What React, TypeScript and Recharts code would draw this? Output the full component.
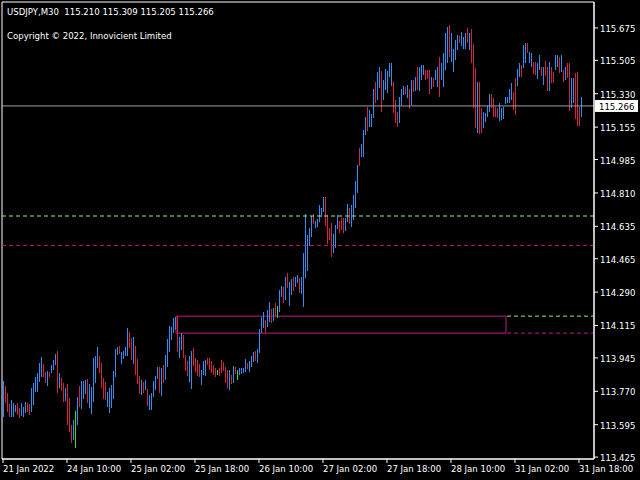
import React from 'react';
import { ComposedChart, Bar, XAxis, YAxis, ReferenceLine, ReferenceArea } from 'recharts';

// M30 bars, high / low per bar, direction u = up, d = down, g = doji
const highs = [
  113.824, 113.798, 113.760, 113.703, 113.724, 113.708, 113.698, 113.708, 113.682, 113.708,
  113.687, 113.714, 113.708, 113.703, 113.787, 113.813, 113.844, 113.865, 113.918, 113.949,
  113.913, 113.871, 113.876, 113.871, 113.908, 113.934, 113.965, 113.981, 113.865, 113.839,
  113.813, 113.787, 113.808, 113.734, 113.593, 113.619, 113.666, 113.739, 113.798, 113.824,
  113.824, 113.829, 113.834, 113.808, 113.792, 113.944, 113.955, 114.001, 113.955, 113.918,
  113.839, 113.819, 113.766, 113.787, 113.803, 113.876, 113.991, 114.001, 114.007, 113.976,
  113.981, 114.001, 114.101, 114.080, 114.049, 114.054, 114.007, 113.939, 113.850, 113.829,
  113.819, 113.829, 113.781, 113.750, 113.760, 113.824, 113.850, 113.897, 113.897, 113.892,
  113.908, 113.960, 114.043, 114.112, 114.107, 114.154, 114.159, 114.164, 114.054, 114.075,
  114.065, 113.960, 113.929, 113.955, 113.981, 113.996, 113.944, 113.934, 113.913, 113.881,
  113.929, 113.934, 113.944, 113.944, 113.929, 113.908, 113.892, 113.881, 113.892, 113.934,
  113.923, 113.897, 113.881, 113.881, 113.855, 113.902, 113.897, 113.881, 113.892, 113.892,
  113.892, 113.939, 113.918, 113.929, 113.955, 113.976, 113.981, 113.991, 114.096, 114.159,
  114.185, 114.143, 114.196, 114.238, 114.201, 114.206, 114.232, 114.217, 114.301, 114.322,
  114.316, 114.369, 114.390, 114.343, 114.358, 114.369, 114.369, 114.379, 114.364, 114.369,
  114.495, 114.699, 114.589, 114.626, 114.689, 114.699, 114.663, 114.673, 114.747, 114.731,
  114.788, 114.788, 114.694, 114.626, 114.652, 114.594, 114.642, 114.694, 114.663, 114.678,
  114.678, 114.678, 114.752, 114.731, 114.747, 114.799, 114.873, 114.956, 115.045, 115.066,
  115.140, 115.208, 115.260, 115.245, 115.224, 115.355, 115.392, 115.444, 115.470, 115.449,
  115.402, 115.460, 115.449, 115.491, 115.491, 115.392, 115.297, 115.234, 115.313, 115.355,
  115.371, 115.366, 115.376, 115.355, 115.402, 115.402, 115.418, 115.470, 115.470, 115.481,
  115.481, 115.455, 115.455, 115.455, 115.418, 115.413, 115.455, 115.470, 115.523, 115.491,
  115.544, 115.649, 115.680, 115.691, 115.649, 115.565, 115.612, 115.638, 115.633, 115.654,
  115.628, 115.649, 115.675, 115.649, 115.670, 115.591, 115.465, 115.392, 115.392, 115.255,
  115.234, 115.229, 115.266, 115.329, 115.329, 115.308, 115.260, 115.255, 115.282, 115.255,
  115.260, 115.313, 115.313, 115.355, 115.387, 115.339, 115.413, 115.460, 115.491, 115.481,
  115.586, 115.596, 115.596, 115.549, 115.544, 115.496, 115.496, 115.491, 115.533, 115.470,
  115.470, 115.502, 115.470, 115.496, 115.470, 115.444, 115.533, 115.533, 115.523, 115.533,
  115.455, 115.470, 115.491, 115.491, 115.413, 115.413, 115.439, 115.444, 115.260, 115.313,
];

const lows = [
  113.634, 113.708, 113.661, 113.634, 113.634, 113.634, 113.661, 113.645, 113.629, 113.640,
  113.634, 113.655, 113.661, 113.645, 113.661, 113.698, 113.766, 113.766, 113.819, 113.844,
  113.844, 113.813, 113.798, 113.844, 113.865, 113.881, 113.908, 113.760, 113.787, 113.771,
  113.714, 113.719, 113.593, 113.556, 113.498, 113.514, 113.472, 113.593, 113.687, 113.677,
  113.729, 113.755, 113.708, 113.682, 113.650, 113.714, 113.813, 113.892, 113.865, 113.787,
  113.729, 113.724, 113.687, 113.655, 113.682, 113.729, 113.844, 113.960, 113.965, 113.913,
  113.939, 113.955, 113.955, 113.996, 113.934, 113.913, 113.855, 113.808, 113.755, 113.750,
  113.760, 113.776, 113.693, 113.671, 113.671, 113.739, 113.776, 113.834, 113.760, 113.745,
  113.813, 113.829, 113.897, 113.976, 114.038, 114.075, 114.091, 113.976, 113.944, 113.986,
  113.944, 113.876, 113.850, 113.819, 113.781, 113.902, 113.871, 113.850, 113.844, 113.803,
  113.855, 113.850, 113.908, 113.881, 113.865, 113.855, 113.844, 113.855, 113.850, 113.865,
  113.876, 113.813, 113.787, 113.776, 113.808, 113.813, 113.860, 113.829, 113.855, 113.860,
  113.865, 113.871, 113.886, 113.871, 113.897, 113.923, 113.929, 113.918, 113.970, 114.075,
  114.101, 114.075, 114.107, 114.133, 114.127, 114.138, 114.159, 114.154, 114.185, 114.264,
  114.232, 114.248, 114.311, 114.217, 114.275, 114.296, 114.316, 114.337, 114.285, 114.280,
  114.212, 114.364, 114.400, 114.531, 114.579, 114.647, 114.626, 114.631, 114.657, 114.684,
  114.710, 114.636, 114.542, 114.563, 114.474, 114.495, 114.521, 114.621, 114.600, 114.615,
  114.600, 114.610, 114.657, 114.647, 114.631, 114.668, 114.731, 114.809, 114.951, 114.998,
  114.998, 115.113, 115.134, 115.155, 115.155, 115.203, 115.282, 115.297, 115.360, 115.234,
  115.297, 115.350, 115.334, 115.418, 115.371, 115.229, 115.177, 115.155, 115.177, 115.271,
  115.324, 115.329, 115.308, 115.250, 115.271, 115.340, 115.345, 115.350, 115.345, 115.402,
  115.429, 115.402, 115.407, 115.329, 115.355, 115.366, 115.402, 115.366, 115.313, 115.402,
  115.366, 115.455, 115.491, 115.523, 115.496, 115.444, 115.507, 115.559, 115.596, 115.580,
  115.565, 115.565, 115.596, 115.559, 115.491, 115.255, 115.150, 115.124, 115.119, 115.124,
  115.150, 115.182, 115.208, 115.234, 115.255, 115.208, 115.208, 115.203, 115.187, 115.192,
  115.198, 115.276, 115.282, 115.282, 115.297, 115.245, 115.219, 115.371, 115.418, 115.418,
  115.465, 115.491, 115.544, 115.491, 115.470, 115.434, 115.429, 115.407, 115.455, 115.423,
  115.376, 115.423, 115.345, 115.345, 115.387, 115.387, 115.455, 115.470, 115.439, 115.444,
  115.392, 115.402, 115.413, 115.240, 115.255, 115.282, 115.198, 115.161, 115.161, 115.208,
];

const dirs = (
  'uddduuuddu' + 'uudduuuuuu' + 'dduduuudud' + 'dudddugudu' + 'uuduuuuudd' +
  'dduuuuuudu' + 'uuuddudddu' + 'duduuuuudu' + 'duuuuuuduu' + 'ddduuddddu' +
  'uudddddgdd' + 'dddududguu' + 'uuduuuduuu' + 'uduududguu' + 'duduuduudu' +
  'uuuuuduuuu' + 'udddduuudd' + 'duuduuuudu' + 'uuduuuduud' + 'uuuuuddduu' +
  'ududududuu' + 'uddduduudu' + 'uuuduuuudu' + 'uududddudd' + 'uuuudddduu' +
  'uuuuudduud' + 'uuduudduud' + 'uddudduudu' + 'dudduudddu'
).split('');

const priceTicks = [113.425, 113.595, 113.77, 113.945, 114.115, 114.29, 114.465, 114.635, 114.81, 114.985, 115.155, 115.33, 115.505, 115.675];
const timeTicks = ['21 Jan 18:00', '24 Jan 10:00', '25 Jan 02:00', '25 Jan 18:00', '26 Jan 10:00', '27 Jan 02:00', '27 Jan 18:00', '28 Jan 10:00', '31 Jan 02:00', '31 Jan 18:00'];
const firstTickLabel = '21 Jan 2022';

const symbolTitle = 'USDJPY,M30';
const ohlcText = '115.210 115.309 115.205 115.266';
const copyright = 'Copyright © 2022, Innovicient Limited';

const lastPrice = 115.266;
const upperLevel = 114.689;
const lowerLevel = 114.535;
const zoneHigh = 114.164;
const zoneLow = 114.075;
const zoneStart = '25 Jan 13:30';
const zoneEnd = '28 Jan 23:30';
const extStart = '31 Jan 00:00';
const extEnd = '31 Jan 21:30';

// M30 time slots, weekends skipped
const MONTHS = ['Jan', 'Feb', 'Mar', 'Apr', 'May', 'Jun', 'Jul', 'Aug', 'Sep', 'Oct', 'Nov', 'Dec'];
const pad = (n: number) => (n < 10 ? '0' + n : '' + n);
const slots: string[] = [];
let ts = Date.UTC(2022, 0, 21, 18, 0);
while (slots.length < 296) {
  const d = new Date(ts);
  const wd = d.getUTCDay();
  if (wd !== 0 && wd !== 6) {
    slots.push(`${d.getUTCDate()} ${MONTHS[d.getUTCMonth()]} ${pad(d.getUTCHours())}:${pad(d.getUTCMinutes())}`);
  }
  ts += 30 * 60 * 1000;
}

const rows = slots.map((t, i) => ({
  t,
  range: i < highs.length ? [lows[i], highs[i]] : null,
  dir: dirs[i] || 'u',
}));

const FONT = "'DejaVu Sans Condensed', 'Liberation Sans', sans-serif";
const FS = 9.5;
const barColors: Record<string, string> = { u: '#2f8ff0', d: '#d3233f', g: '#33dd33' };

const renderBar = (props: any) => {
  const { x, y, height, payload } = props;
  if (!payload || payload.range == null || x == null) return <g />;
  return (
    <rect
      x={Math.round(x)}
      y={Math.round(y)}
      width={1}
      height={Math.max(1, Math.round(height))}
      fill={barColors[payload.dir]}
      shapeRendering="crispEdges"
    />
  );
};

const XTick = (props: any) => {
  const { x, y, payload } = props;
  const label = payload.value === slots[0] ? firstTickLabel : payload.value;
  return (
    <text x={x} y={y} dy={8} textAnchor="start" fill="#fff" fontSize={FS} fontFamily={FONT}>
      {label}
    </text>
  );
};

const YTick = (props: any) => {
  const { x, y, payload } = props;
  return (
    <text x={x} y={y} dy={4} textAnchor="start" fill="#fff" fontSize={FS} fontFamily={FONT}>
      {payload.value.toFixed(3)}
    </text>
  );
};

const PriceTag = (props: any) => {
  const vb = props.viewBox || {};
  const x = vb.x + vb.width + 1;
  const y = vb.y;
  return (
    <g>
      <rect x={x} y={y - 6} width={43} height={12} fill="#fff" />
      <text x={x + 4} y={y + 4} fill="#000" fontSize={FS} fontFamily={FONT}>
        {lastPrice.toFixed(3)}
      </text>
    </g>
  );
};

export default function App() {
  return (
    <div style={{ position: 'fixed', left: 0, top: 0, width: 640, height: 480, background: '#000' }}>
      <ComposedChart width={640} height={480} data={rows} margin={{ top: 2, right: 0, bottom: 0, left: 2 }} barCategoryGap={0}>
        <XAxis
          dataKey="t"
          ticks={timeTicks}
          interval={0}
          tick={<XTick />}
          tickSize={4}
          tickMargin={1}
          height={21}
          stroke="#fff"
        />
        <YAxis
          orientation="right"
          type="number"
          domain={[113.415, 115.811]}
          allowDataOverflow
          ticks={priceTicks}
          interval={0}
          tick={<YTick />}
          tickSize={4}
          tickMargin={2}
          width={46}
          stroke="#fff"
        />
        <ReferenceArea y1={113.415} y2={115.811} fill="none" stroke="#fff" ifOverflow="visible" />
        <ReferenceLine y={upperLevel} stroke="#90ee90" strokeDasharray="4 3" />
        <ReferenceLine y={lowerLevel} stroke="#c71585" strokeDasharray="4 3" />
        <ReferenceArea x1={zoneStart} x2={zoneEnd} y1={zoneLow} y2={zoneHigh} fill="none" stroke="#c71585" strokeOpacity={1} />
        <ReferenceLine segment={[{ x: extStart, y: zoneHigh }, { x: extEnd, y: zoneHigh }]} stroke="#90ee90" strokeDasharray="4 3" />
        <ReferenceLine segment={[{ x: extStart, y: zoneLow }, { x: extEnd, y: zoneLow }]} stroke="#c71585" strokeDasharray="4 3" />
        <ReferenceLine y={lastPrice} stroke="#9aa2aa" label={<PriceTag />} />
        <Bar dataKey="range" barSize={1} shape={renderBar} isAnimationActive={false} />
      </ComposedChart>
      <svg width={640} height={50} style={{ position: 'absolute', left: 0, top: 0, pointerEvents: 'none' }}>
        <text x={7} y={15} fill="#fff" fontSize={FS} fontFamily={FONT} style={{ whiteSpace: 'pre' }}>
          {symbolTitle + '  ' + ohlcText}
        </text>
        <text x={7} y={39} fill="#fff" fontSize={FS} fontFamily={FONT}>
          {copyright}
        </text>
      </svg>
    </div>
  );
}
